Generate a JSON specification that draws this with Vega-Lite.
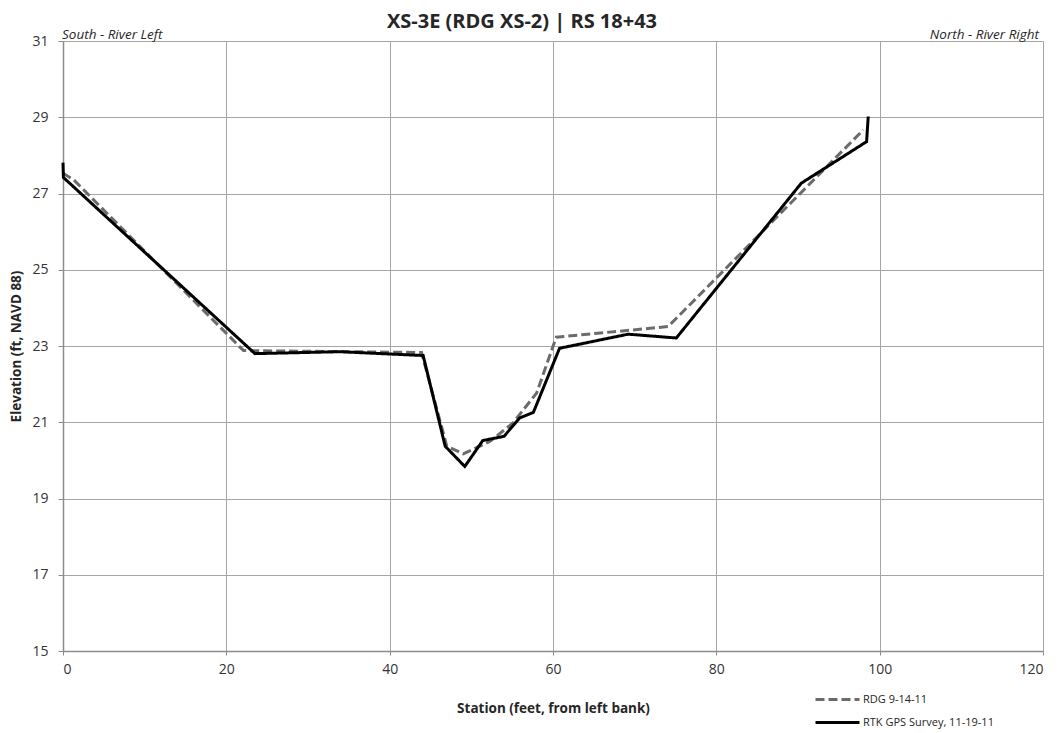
{
  "$schema": "https://vega.github.io/schema/vega-lite/v6.json",
  "width": 980,
  "height": 610,
  "autosize": {"type": "none"},
  "padding": {"left": 63, "top": 41, "right": 19, "bottom": 82},
  "background": "white",
  "title": {"text": "XS-3E (RDG XS-2) | RS 18+43", "font": "Open Sans", "fontSize": 20, "fontWeight": "bold", "color": "#262626", "anchor": "middle", "offset": 0, "dx": -31, "dy": 4},
  "config": {
    "view": {"stroke": null},
    "axis": {"labelFont": "Open Sans", "labelFontSize": 14, "labelColor": "#333", "titleFont": "Open Sans", "titleFontSize": 13.5, "titleFontWeight": "bold", "titleColor": "#262626", "gridColor": "#a6a6a6", "gridWidth": 1, "domainColor": "#8c8c8c", "domainWidth": 1.5, "tickColor": "#8c8c8c", "tickSize": 5}
  },
  "datasets": {
    "lines": [
      {"series": "RDG 9-14-11", "i": 1, "station": 0, "elev": 27.53},
      {"series": "RDG 9-14-11", "i": 2, "station": 1.3, "elev": 27.36},
      {"series": "RDG 9-14-11", "i": 3, "station": 22.1, "elev": 22.88},
      {"series": "RDG 9-14-11", "i": 4, "station": 43.9, "elev": 22.83},
      {"series": "RDG 9-14-11", "i": 5, "station": 47.0, "elev": 20.37},
      {"series": "RDG 9-14-11", "i": 6, "station": 49.0, "elev": 20.17},
      {"series": "RDG 9-14-11", "i": 7, "station": 52.3, "elev": 20.5},
      {"series": "RDG 9-14-11", "i": 8, "station": 55.1, "elev": 20.98},
      {"series": "RDG 9-14-11", "i": 9, "station": 58.0, "elev": 21.77},
      {"series": "RDG 9-14-11", "i": 10, "station": 60.4, "elev": 23.23},
      {"series": "RDG 9-14-11", "i": 11, "station": 74.1, "elev": 23.51},
      {"series": "RDG 9-14-11", "i": 12, "station": 98.0, "elev": 28.67},
      {"series": "RTK GPS Survey, 11-19-11", "i": 1, "station": 0, "elev": 27.81},
      {"series": "RTK GPS Survey, 11-19-11", "i": 2, "station": 0.05, "elev": 27.42},
      {"series": "RTK GPS Survey, 11-19-11", "i": 3, "station": 23.5, "elev": 22.8},
      {"series": "RTK GPS Survey, 11-19-11", "i": 4, "station": 33.9, "elev": 22.85},
      {"series": "RTK GPS Survey, 11-19-11", "i": 5, "station": 44.1, "elev": 22.75},
      {"series": "RTK GPS Survey, 11-19-11", "i": 6, "station": 46.8, "elev": 20.37},
      {"series": "RTK GPS Survey, 11-19-11", "i": 7, "station": 49.2, "elev": 19.84},
      {"series": "RTK GPS Survey, 11-19-11", "i": 8, "station": 51.4, "elev": 20.52},
      {"series": "RTK GPS Survey, 11-19-11", "i": 9, "station": 54.0, "elev": 20.63},
      {"series": "RTK GPS Survey, 11-19-11", "i": 10, "station": 55.9, "elev": 21.11},
      {"series": "RTK GPS Survey, 11-19-11", "i": 11, "station": 57.6, "elev": 21.26},
      {"series": "RTK GPS Survey, 11-19-11", "i": 12, "station": 60.8, "elev": 22.94},
      {"series": "RTK GPS Survey, 11-19-11", "i": 13, "station": 69.2, "elev": 23.31},
      {"series": "RTK GPS Survey, 11-19-11", "i": 14, "station": 75.1, "elev": 23.21},
      {"series": "RTK GPS Survey, 11-19-11", "i": 15, "station": 90.4, "elev": 27.27},
      {"series": "RTK GPS Survey, 11-19-11", "i": 16, "station": 98.4, "elev": 28.36},
      {"series": "RTK GPS Survey, 11-19-11", "i": 17, "station": 98.6, "elev": 29.02}
    ]
  },
  "layer": [
    {
      "data": {"name": "lines"},
      "mark": {"type": "line", "strokeWidth": 3, "strokeCap": "butt"},
      "encoding": {
        "x": {"field": "station", "type": "quantitative", "scale": {"domain": [0, 120], "nice": false, "zero": false},
              "axis": {"title": "Station (feet, from left bank)", "values": [0, 20, 40, 60, 80, 100, 120], "titlePadding": 25, "labelPadding": 7, "tickSize": 4}},
        "y": {"field": "elev", "type": "quantitative", "scale": {"domain": [15, 31], "nice": false, "zero": false},
              "axis": {"title": "Elevation (ft, NAVD 88)", "values": [15, 17, 19, 21, 23, 25, 27, 29, 31], "titlePadding": 8, "labelPadding": 10, "tickSize": 5}},
        "order": {"field": "i", "type": "quantitative"},
        "color": {"field": "series", "type": "nominal",
                  "scale": {"domain": ["RDG 9-14-11", "RTK GPS Survey, 11-19-11"], "range": ["#6b6b6b", "#000000"]},
                  "legend": {"title": null, "orient": "none", "legendX": 773, "legendY": 646, "symbolType": "M-3,0L1,0", "symbolSize": 484, "symbolStrokeWidth": 3, "labelFont": "Open Sans", "labelFontSize": 11, "labelColor": "#262626", "rowPadding": 4, "labelOffset": 2}},
        "strokeDash": {"field": "series", "type": "nominal",
                  "scale": {"domain": ["RDG 9-14-11", "RTK GPS Survey, 11-19-11"], "range": [[9, 4], [1, 0]]},
                  "legend": null}
      }
    },
    {
      "data": {"values": [{"label": "South - River Left", "station": 0, "elev": 31}]},
      "mark": {"type": "text", "align": "left", "baseline": "alphabetic", "dy": -2, "dx": -1, "font": "Open Sans", "fontStyle": "italic", "fontSize": 13.5, "color": "#262626"},
      "encoding": {"x": {"field": "station", "type": "quantitative"}, "y": {"field": "elev", "type": "quantitative"}, "text": {"field": "label"}}
    },
    {
      "data": {"values": [{"label": "North - River Right", "station": 120, "elev": 31}]},
      "mark": {"type": "text", "align": "right", "baseline": "alphabetic", "dy": -2, "dx": -4, "font": "Open Sans", "fontStyle": "italic", "fontSize": 13.5, "color": "#262626"},
      "encoding": {"x": {"field": "station", "type": "quantitative"}, "y": {"field": "elev", "type": "quantitative"}, "text": {"field": "label"}}
    }
  ]
}
